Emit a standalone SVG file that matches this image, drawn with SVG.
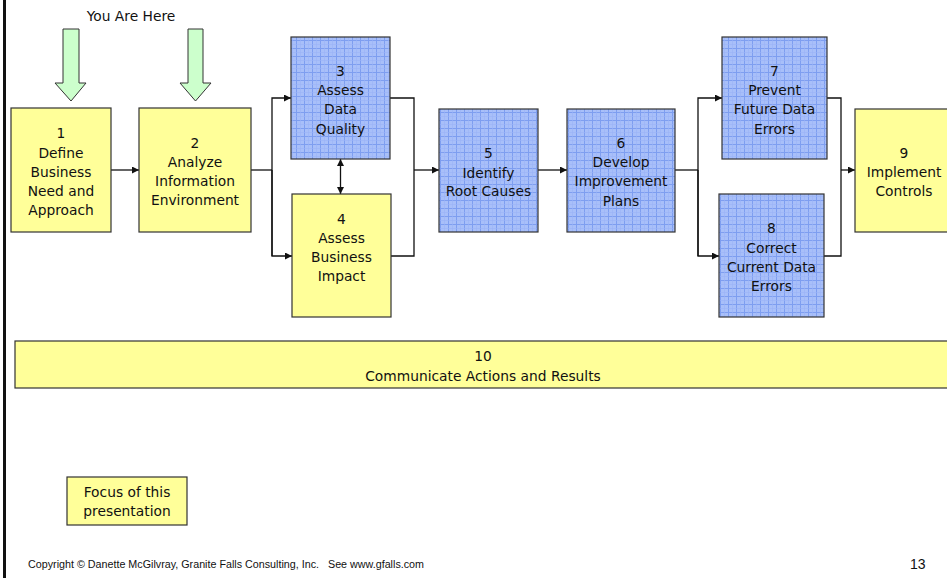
<svg xmlns="http://www.w3.org/2000/svg" width="947" height="578" viewBox="0 0 947 578">
  <style>
    .yel { fill: #ffff99; stroke: #333333; stroke-width: 1.2; }
    .blu { fill: url(#grid); stroke: #333333; stroke-width: 1.2; }
    .lbl { font-family: "DejaVu Sans", Verdana, sans-serif; font-size: 13.8px; fill: #111111; text-anchor: middle; }
    .conn { fill: none; stroke: #111111; stroke-width: 1.3; }
    .pointer { fill: #ccffcc; stroke: #333333; stroke-width: 1; }
  </style>
  <defs>
    <!-- fine blue grid texture used for the data-focused steps -->
    <pattern id="grid" width="8" height="8" patternUnits="userSpaceOnUse">
      <rect width="8" height="8" fill="#a8bff9"/>
      <path d="M0 0.5H8M0.5 0V8" stroke="#7e9ef0" stroke-width="1"/>
      <path d="M0 4.5H8M4.5 0V8" stroke="#9ab3f6" stroke-width="0.6"/>
    </pattern>
    <marker id="arr" viewBox="0 0 10 10" refX="10" refY="5" markerWidth="7" markerHeight="7" markerUnits="userSpaceOnUse" orient="auto-start-reverse">
      <path d="M0 0L10 5L0 10z" fill="#111111"/>
    </marker>
  </defs>

  <!-- slide frame edge -->
  <line x1="4.5" y1="0" x2="4.5" y2="578" stroke="#111111" stroke-width="3"/>

  <!-- "You Are Here" pointers -->
  <g id="pointers">
    <text class="lbl" x="131" y="21">You Are Here</text>
    <path class="pointer" d="M63 29H79V83H86L71 101L55 83H63Z"/>
    <path class="pointer" d="M188 29H203V83H211L195.5 101L180 83H188Z"/>
  </g>

  <g id="connectors">
    <line class="conn" x1="111" y1="170" x2="139" y2="170" marker-end="url(#arr)"/>
    <polyline class="conn" points="251,170 272,170"/>
    <polyline class="conn" points="272,256 272,98 291,98" marker-end="url(#arr)"/>
    <polyline class="conn" points="272,170 272,256 292,256" marker-end="url(#arr)"/>
    <line class="conn" x1="340.5" y1="159" x2="340.5" y2="194" marker-start="url(#arr)" marker-end="url(#arr)"/>
    <polyline class="conn" points="390,98 414,98 414,256 391,256"/>
    <line class="conn" x1="414" y1="170" x2="439" y2="170" marker-end="url(#arr)"/>
    <line class="conn" x1="538" y1="170" x2="567" y2="170" marker-end="url(#arr)"/>
    <polyline class="conn" points="675,170 698,170"/>
    <polyline class="conn" points="698,256 698,98 722,98" marker-end="url(#arr)"/>
    <polyline class="conn" points="698,170 698,256 719,256" marker-end="url(#arr)"/>
    <polyline class="conn" points="827,98 841,98 841,256 824,256"/>
    <line class="conn" x1="841" y1="170" x2="855" y2="170" marker-end="url(#arr)"/>
  </g>

  <g id="step1">
    <rect class="yel" x="11" y="108" width="100" height="124"/>
    <text class="lbl" x="61"><tspan x="61" y="138">1</tspan><tspan x="61" y="158">Define</tspan><tspan x="61" y="177">Business</tspan><tspan x="61" y="196">Need and</tspan><tspan x="61" y="215">Approach</tspan></text>
  </g>
  <g id="step2">
    <rect class="yel" x="139" y="108" width="112" height="124"/>
    <text class="lbl" x="195"><tspan x="195" y="148">2</tspan><tspan x="195" y="167">Analyze</tspan><tspan x="195" y="186">Information</tspan><tspan x="195" y="205">Environment</tspan></text>
  </g>
  <g id="step3">
    <rect class="blu" x="291" y="37" width="99" height="122"/>
    <text class="lbl" x="340.5"><tspan x="340.5" y="76">3</tspan><tspan x="340.5" y="95">Assess</tspan><tspan x="340.5" y="114">Data</tspan><tspan x="340.5" y="134">Quality</tspan></text>
  </g>
  <g id="step4">
    <rect class="yel" x="292" y="194" width="99" height="123"/>
    <text class="lbl" x="341.5"><tspan x="341.5" y="224">4</tspan><tspan x="341.5" y="243">Assess</tspan><tspan x="341.5" y="262">Business</tspan><tspan x="341.5" y="281">Impact</tspan></text>
  </g>
  <g id="step5">
    <rect class="blu" x="439" y="109" width="99" height="123"/>
    <text class="lbl" x="488.5"><tspan x="488.5" y="158">5</tspan><tspan x="488.5" y="178">Identify</tspan><tspan x="488.5" y="196">Root Causes</tspan></text>
  </g>
  <g id="step6">
    <rect class="blu" x="567" y="109" width="108" height="123"/>
    <text class="lbl" x="621"><tspan x="621" y="148">6</tspan><tspan x="621" y="167">Develop</tspan><tspan x="621" y="186">Improvement</tspan><tspan x="621" y="206">Plans</tspan></text>
  </g>
  <g id="step7">
    <rect class="blu" x="722" y="37" width="105" height="122"/>
    <text class="lbl" x="774.5"><tspan x="774.5" y="76">7</tspan><tspan x="774.5" y="95">Prevent</tspan><tspan x="774.5" y="114">Future Data</tspan><tspan x="774.5" y="134">Errors</tspan></text>
  </g>
  <g id="step8">
    <rect class="blu" x="719" y="194" width="105" height="123"/>
    <text class="lbl" x="771.5"><tspan x="771.5" y="233">8</tspan><tspan x="771.5" y="253">Correct</tspan><tspan x="771.5" y="272">Current Data</tspan><tspan x="771.5" y="291">Errors</tspan></text>
  </g>
  <g id="step9">
    <rect class="yel" x="855" y="109" width="100" height="123"/>
    <text class="lbl" x="904"><tspan x="904" y="158">9</tspan><tspan x="904" y="177">Implement</tspan><tspan x="904" y="196">Controls</tspan></text>
  </g>
  <g id="step10">
    <rect class="yel" x="15" y="341" width="940" height="47"/>
    <text class="lbl" x="483"><tspan x="483" y="361">10</tspan><tspan x="483" y="381">Communicate Actions and Results</tspan></text>
  </g>
  <g id="legend">
    <rect class="yel" x="67" y="477" width="120" height="48"/>
    <text class="lbl" x="127"><tspan x="127" y="497">Focus of this</tspan><tspan x="127" y="516">presentation</tspan></text>
  </g>

  <g id="footer">
    <text x="28" y="568" font-family="Liberation Sans, Arial, sans-serif" font-size="10" fill="#111111" textLength="396" lengthAdjust="spacingAndGlyphs">Copyright © Danette McGilvray, Granite Falls Consulting, Inc.&#160;&#160; See www.gfalls.com</text>
    <text x="910" y="569" font-family="Liberation Sans, Arial, sans-serif" font-size="14" fill="#111111">13</text>
  </g>
</svg>
